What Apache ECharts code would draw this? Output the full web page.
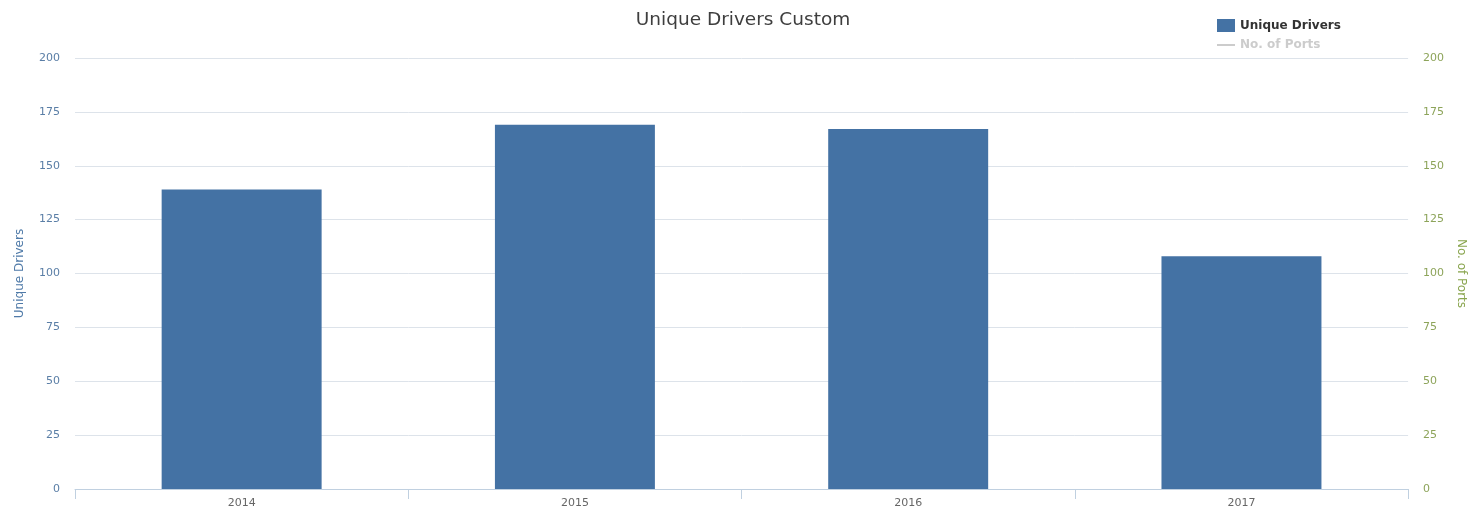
<!DOCTYPE html>
<html>
<head>
<meta charset="utf-8">
<script src="https://cdn.jsdelivr.net/npm/echarts@6/dist/echarts.min.js"></script>
<style>
html,body{margin:0;padding:0;background:#fff;}
#chart{width:1475px;height:513px;}
</style>
</head>
<body>
<div id="chart"></div>
<script>
const categories = ['2014', '2015', '2016', '2017'];
const uniqueDrivers = [139, 169, 167, 108];
const noOfPorts = [];
const yTicks = { min: 0, max: 200, interval: 25 };

const FONT = '"DejaVu Sans", "Lucida Grande", sans-serif';
const chart = echarts.init(document.getElementById('chart'), null, { renderer: 'canvas' });
chart.setOption({
  backgroundColor: '#fff',
  animation: false,
  textStyle: { fontFamily: FONT },
  title: {
    text: 'Unique Drivers Custom',
    left: 738, top: 6, textAlign: 'center',
    textStyle: { fontSize: 18.5, fontWeight: 'normal', color: '#3e3e3e', fontFamily: FONT }
  },
  legend: {
    orient: 'vertical',
    left: 1212, top: 14,
    padding: [5, 5, 4, 5],
    backgroundColor: '#fff',
    z: 10,
    itemGap: 7,
    itemWidth: 18, itemHeight: 13,
    inactiveColor: '#cccccc',
    textStyle: { fontSize: 12, fontWeight: 'bold', color: '#333', fontFamily: FONT },
    selected: { 'No. of Ports': false },
    data: [
      { name: 'Unique Drivers', icon: 'rect' },
      { name: 'No. of Ports', icon: 'path://M0,0 L18,0 L18,2 L0,2 Z' }
    ]
  },
  grid: { left: 75, right: 65, top: 58, bottom: 24, containLabel: false },
  xAxis: {
    type: 'category',
    data: categories,
    boundaryGap: true,
    axisLine: { lineStyle: { color: '#C0D0E0', width: 1 } },
    axisTick: { show: true, length: 10, alignWithLabel: false, lineStyle: { color: '#C0D0E0' } },
    axisLabel: { color: '#666', fontSize: 11, margin: 9, fontFamily: FONT },
    splitLine: { show: false }
  },
  yAxis: [
    {
      type: 'value',
      min: yTicks.min, max: yTicks.max, interval: yTicks.interval,
      name: 'Unique Drivers',
      nameLocation: 'middle',
      nameGap: 49,
      nameTextStyle: { color: '#4f7aa8', fontSize: 12, fontFamily: FONT },
      axisLine: { show: false },
      axisTick: { show: false },
      axisLabel: { color: '#5a7ea6', fontSize: 11, margin: 15, fontFamily: FONT },
      splitLine: { lineStyle: { color: '#dde3ea', width: 1 } }
    },
    {
      type: 'value',
      position: 'right',
      min: yTicks.min, max: yTicks.max, interval: yTicks.interval,
      name: 'No. of Ports',
      nameLocation: 'middle',
      nameGap: 46,
      nameRotate: -90,
      nameTextStyle: { color: '#89A54E', fontSize: 12, fontFamily: FONT },
      axisLine: { show: false },
      axisTick: { show: false },
      axisLabel: { color: '#8da45a', fontSize: 11, margin: 15, fontFamily: FONT },
      splitLine: { show: false }
    }
  ],
  series: [
    {
      name: 'Unique Drivers',
      type: 'bar',
      yAxisIndex: 0,
      data: uniqueDrivers,
      barCategoryGap: '52%',
      itemStyle: { color: '#4472A4' }
    },
    {
      name: 'No. of Ports',
      type: 'line',
      yAxisIndex: 1,
      data: noOfPorts,
      itemStyle: { color: '#89A54E' },
      lineStyle: { color: '#89A54E' }
    }
  ]
});
</script>
</body>
</html>
